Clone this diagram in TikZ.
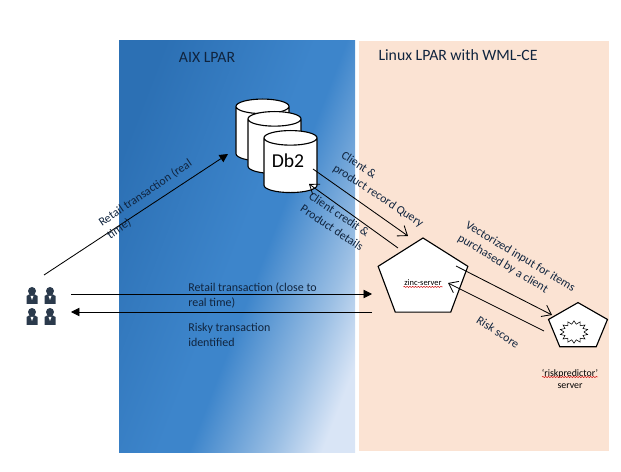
\documentclass[tikz,border=0pt]{standalone}
\usepackage{fontspec}
\setmainfont{Carlito}
\usetikzlibrary{shapes.geometric,arrows.meta,decorations.pathmorphing}
\definecolor{peach}{HTML}{FBE3D3}
\definecolor{inkblue}{HTML}{10243E}
\definecolor{persondark}{HTML}{2B3A4C}
\definecolor{bluea}{HTML}{2C70B4}
\definecolor{blueb}{HTML}{3D85CB}
\definecolor{bluem}{HTML}{9BBFE4}
\definecolor{bluec}{HTML}{D9E5F6}
\pgfdeclarehorizontalshading{bluepanel}{100bp}{color(0bp)=(bluea);
  color(25bp)=(bluea); color(50bp)=(blueb); color(55bp)=(blueb); color(69bp)=(bluem); color(77bp)=(bluec); color(100bp)=(bluec)}
\tikzset{
  db/.style={cylinder, shape border rotate=90, draw=black, fill=white, thick, aspect=.45,
    minimum width=1.325cm, minimum height=1.55cm, inner sep=0pt, font=\fontsize{14}{16}\selectfont},
  server/.style={regular polygon, regular polygon sides=5, draw=black, fill=white, thick, inner sep=0pt},
  flow/.style={draw=black, line width=.6pt, -{Straight Barb[length=6pt,width=9pt]}},
  solid flow/.style={draw=black, line width=.6pt, -{Triangle[length=6pt,width=6pt]}},
  lbl/.style={font=\fontsize{8.5}{10.7}\selectfont, text=inkblue, inner sep=0pt},
  wavy/.style={draw=red!80!black, line width=.35pt, decorate, decoration={snake, amplitude=.4pt, segment length=2pt}},
  person/.pic={
    \fill[persondark] (-5.5,11) -- (-5.5,3) -- (-2,1) -- (2,1) -- (5.5,3) -- (5.5,11) -- cycle;
    \fill[persondark] (0,-2) circle (4);
    \fill[white] (-1.5,3) -- (1.5,3) -- (0,7) -- cycle;
  }
}
\begin{document}
\begin{tikzpicture}[x=0.025cm, y=-0.025cm]
  \useasboundingbox (0,0) rectangle (621,472);
  \path[shading=bluepanel, shading angle=-21] (119,41) rectangle (355,453);
  \fill[peach] (359,41) rectangle (609,451);

  \node[lbl, font=\fontsize{11.2}{13}\selectfont] (aix) at (207,57) {AIX LPAR};
  \node[lbl, font=\fontsize{11.2}{13}\selectfont] (linux) at (458,55) {Linux LPAR with WML-CE};

  % database stack
  \node[db] (db3) at (262.5,134) {\phantom{Db2}};
  \node[db] (db2) at (274.5,146.5) {\phantom{Db2}};
  \node[db] (db1) at (290.5,165.5) {\phantom{Db2}};
  \node[font=\fontsize{14}{16}\selectfont, inner sep=0pt] (dblabel) at (288,161) {Db2};

  % servers
  \node[server, minimum size=2.05cm, xscale=1.15] (zinc) at (423,279) {};
  \node[server, minimum size=1.22cm, xscale=1.27] (risk) at (578,327) {};
  \node[star, star points=14, star point ratio=1.4, draw=black, fill=white, minimum size=.56cm, inner sep=0pt, xscale=1.25] (burst) at (574,332) {};
  \node[font=\fontsize{6}{7}\selectfont, inner sep=.5pt] (zinclabel) at (423,283) {zinc-server};
  \draw[wavy] (zinclabel.south west) -- (zinclabel.south east);
  \node[lbl, font=\fontsize{7}{9.2}\selectfont, align=center, text=black] (risklabel) at (570,379) {`riskpredictor'\\server};
  \coordinate (wave a) at (542,377);
  \coordinate (wave b) at (598,377);
  \draw[wavy] (wave a) -- (wave b);

  % people
  \foreach \px/\py in {32/293, 50/293, 32/314, 50/314}
    \pic at (\px,\py) {person};
  \coordinate (users top) at (44,275);
  \coordinate (users in) at (71,294);
  \coordinate (users out) at (71,312);
  \coordinate (zinc in) at (372,294);
  \coordinate (zinc out) at (372,312);
  \coordinate (db in) at (228,154);
  \coordinate (query from) at (313,169);
  \coordinate (query to) at (408,236);
  \coordinate (credit from) at (398,248);
  \coordinate (credit to) at (309,184);
  \coordinate (vec from) at (456,266);
  \coordinate (vec to) at (552,315);
  \coordinate (score from) at (544,331);
  \coordinate (score to) at (448,283);

  \draw[solid flow] (users top) -- (db in);
  \draw[solid flow] (users in) -- (zinc in);
  \draw[solid flow] (zinc out) -- (users out);
  \draw[flow] (query from) -- (query to);
  \draw[flow] (credit from) -- (credit to);
  \draw[flow] (vec from) -- (vec to);
  \draw[flow] (score from) -- (score to);

  \node[lbl, rotate=34, anchor=west, align=left] (retail) at (104,230) {Retail transaction (real\\time)};
  \node[lbl, rotate=-33, anchor=west, align=left] (query) at (338,161) {Client \&\\product record Query};
  \node[lbl, rotate=-34, anchor=west, align=left] (credit) at (306,201) {Client credit \&\\Product details};
  \node[lbl, rotate=-31, anchor=west, align=left] (vec) at (462.5,231) {Vectorized input for items\\purchased by a client};
  \node[lbl, rotate=-33] (score) at (498,332) {Risk score};
  \node[lbl, anchor=west, align=left] (close) at (188,295) {Retail transaction (close to\\real time)};
  \node[lbl, anchor=west, align=left] (risky) at (188,335) {Risky transaction\\identified};
\end{tikzpicture}
\end{document}
